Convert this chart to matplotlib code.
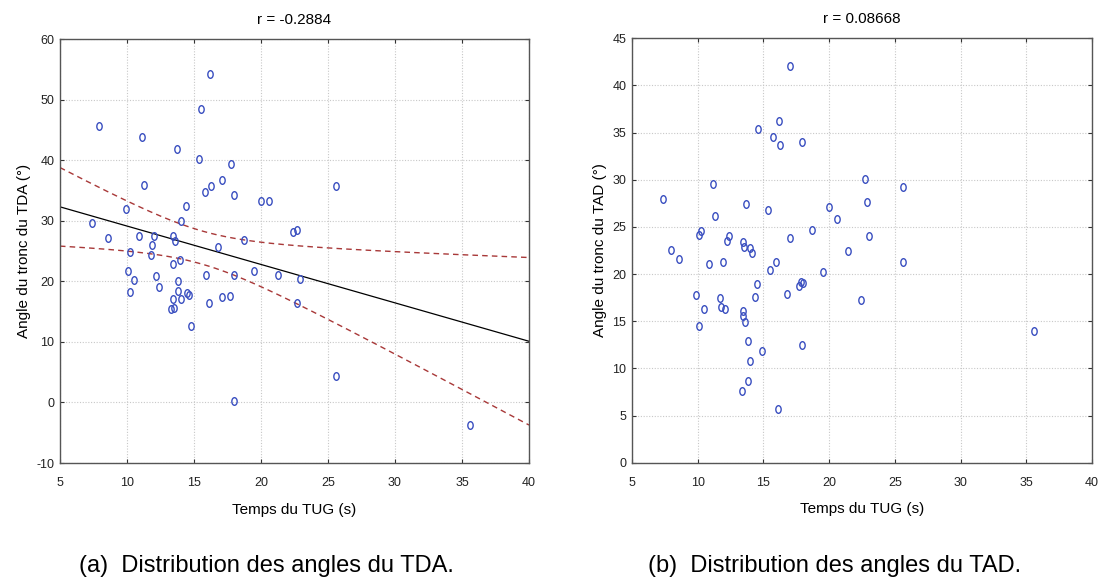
#!/usr/bin/env python3
import numpy as np
import matplotlib
matplotlib.use("Agg")
import matplotlib.pyplot as plt
from matplotlib.path import Path
from matplotlib.transforms import Affine2D

# TDA: temps du TUG (s) et angle du tronc (deg)
tda_time = [7.36, 7.91, 8.56, 9.9, 10.07, 10.2, 10.2, 10.5, 10.9, 11.1, 11.3, 11.77,
            11.87, 12.0, 12.2, 12.4, 13.3, 13.5, 13.4, 13.4, 13.46, 13.55, 13.7, 13.8,
            13.8, 13.96, 14.0, 14.05, 14.4, 14.5, 14.6, 14.8, 15.4, 15.5, 15.8, 15.9,
            16.1, 16.2, 16.3, 16.8, 17.1, 17.1, 17.7, 17.8, 18.0, 18.0, 18.0, 18.7,
            19.5, 20.0, 20.6, 21.3, 22.4, 22.7, 22.7, 22.9, 25.6, 25.6, 35.6]
tda_angle = [29.7, 45.6, 27.2, 31.9, 21.75, 24.8, 18.3, 20.2, 27.5, 43.9, 35.9, 24.3,
             26.0, 27.5, 20.8, 19.05, 15.4, 15.6, 17.0, 27.5, 22.8, 26.6, 41.9, 20.0,
             18.35, 23.5, 17.0, 30.0, 32.5, 18.0, 17.7, 12.6, 40.2, 48.4, 34.7, 21.0,
             16.4, 54.3, 35.7, 25.7, 36.7, 17.35, 17.6, 39.4, 34.2, 21.1, 0.2, 26.8,
             21.75, 33.2, 33.2, 21.0, 28.1, 28.5, 16.4, 20.3, 35.7, 4.4, -3.8]

# TAD
tad_time = [7.34, 8.0, 8.6, 9.87, 10.1, 10.1, 10.26, 10.5, 10.9, 11.15, 11.3, 11.7,
            11.78, 11.9, 12.08, 12.26, 12.4, 13.35, 13.43, 13.43, 13.48, 13.53, 13.58,
            13.7, 13.83, 13.83, 14.0, 14.0, 14.1, 14.4, 14.5, 14.6, 14.88, 15.33, 15.5,
            15.76, 15.95, 16.1, 16.2, 16.3, 16.8, 17.06, 17.06, 17.74, 17.85, 17.97,
            17.97, 18.05, 18.7, 19.5, 20.0, 20.6, 21.4, 22.4, 22.75, 22.9, 23.0, 25.6,
            25.6, 35.6]
tad_angle = [28.0, 22.5, 21.6, 17.8, 14.5, 24.15, 24.6, 16.3, 21.1, 29.6, 26.2, 17.5,
             16.5, 21.3, 16.3, 23.5, 24.0, 7.6, 23.4, 16.1, 15.6, 22.9, 14.9, 27.4,
             12.9, 8.7, 22.8, 10.8, 22.2, 17.6, 18.9, 35.4, 11.85, 26.8, 20.4, 34.5,
             21.3, 5.7, 36.2, 33.65, 17.9, 42.1, 23.8, 18.7, 19.2, 34.0, 12.5, 19.0,
             24.7, 20.2, 27.1, 25.8, 22.4, 17.3, 30.1, 27.6, 24.0, 29.2, 21.3, 14.0]

titles = ["r = -0.2884", "r = 0.08668"]
ylabels = ["Angle du tronc du TDA (°)", "Angle du tronc du TAD (°)"]
captions = ["(a)  Distribution des angles du TDA.", "(b)  Distribution des angles du TAD."]
xlabel = "Temps du TUG (s)"

plt.rcParams["font.family"] = ["Liberation Sans", "DejaVu Sans"]
plt.rcParams["axes.unicode_minus"] = False
TICK_FONT = ["Liberation Sans Narrow", "Liberation Sans", "DejaVu Sans"]
PT_COLOR = "#3a4fc0"

# small upright ellipse, like the "0" markers of the original
ellipse = Path.unit_circle().transformed(Affine2D().scale(0.7, 1.0))


def style_axes(ax, xlim, ylim, yticks):
    ax.set_xlim(*xlim)
    ax.set_ylim(*ylim)
    ax.set_xticks(np.arange(5, 41, 5))
    ax.set_yticks(yticks)
    ax.grid(True, linestyle=(0, (1, 1.5)), color="#c8c8c8", linewidth=0.8)
    ax.set_axisbelow(True)
    ax.tick_params(direction="in", length=3, width=0.8, top=True, right=True,
                   labelsize=9, colors="#333333", labelcolor="#222222")
    ax.tick_params(axis="x", pad=10)
    ax.tick_params(axis="y", pad=4)
    for lab in ax.get_xticklabels() + ax.get_yticklabels():
        lab.set_family(TICK_FONT)
    for sp in ax.spines.values():
        sp.set_color("#555555")
        sp.set_linewidth(1.0)


def main():
    fig = plt.figure(figsize=(11, 5.79), dpi=100)
    ax1 = fig.add_axes([0.0545, 0.2003, 0.4264, 0.7323])
    ax2 = fig.add_axes([0.5745, 0.2009, 0.4182, 0.7330])

    # left panel with regression and 95% confidence band
    x = np.array(tda_time)
    y = np.array(tda_angle)
    slope, icpt = np.polyfit(x, y, 1)
    xs = np.linspace(5, 40, 200)
    fit = icpt + slope * xs
    n = len(x)
    resid = y - (icpt + slope * x)
    s = np.sqrt(np.sum(resid ** 2) / (n - 2))
    sxx = np.sum((x - x.mean()) ** 2)
    half = 2.0 * s * np.sqrt(1.0 / n + (xs - x.mean()) ** 2 / sxx)

    ax1.plot(xs, fit, color="black", linewidth=0.9, zorder=2)
    ax1.plot(xs, fit + half, color="#a83838", linewidth=1.0, linestyle=(0, (4, 3)), zorder=2)
    ax1.plot(xs, fit - half, color="#a83838", linewidth=1.0, linestyle=(0, (4, 3)), zorder=2)
    ax1.plot(x, y, linestyle="none", marker=ellipse, markersize=5.5,
             markerfacecolor="none", markeredgecolor=PT_COLOR, markeredgewidth=1.0, zorder=3)
    style_axes(ax1, (5, 40), (-10, 60), np.arange(-10, 61, 10))

    ax2.plot(tad_time, tad_angle, linestyle="none", marker=ellipse, markersize=5.5,
             markerfacecolor="none", markeredgecolor=PT_COLOR, markeredgewidth=1.0, zorder=3)
    style_axes(ax2, (5, 40), (0, 45), np.arange(0, 46, 5))

    for ax, t, yl in zip([ax1, ax2], titles, ylabels):
        ax.set_title(t, fontsize=11, pad=11)
        ax.set_xlabel(xlabel, fontsize=11, labelpad=10)
        ax.set_ylabel(yl, fontsize=11, labelpad=4)

    # sub-figure captions
    for cx, cap in zip([0.242, 0.759], captions):
        fig.text(cx, 0.022, cap, ha="center", va="center", fontsize=17)

    fig.savefig("out.png", dpi=100)
    plt.close(fig)


if __name__ == "__main__":
    main()
